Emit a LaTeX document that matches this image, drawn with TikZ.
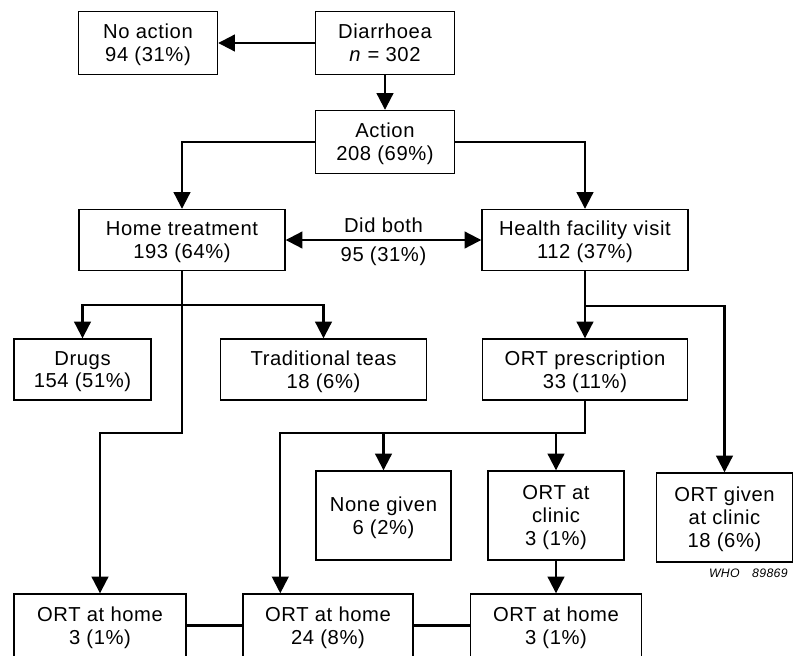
\documentclass[tikz,border=0pt]{standalone}
\usepackage{fontspec}
\setmainfont[LetterSpace=3]{Liberation Sans}
\usepackage{tikz}
\usetikzlibrary{arrows.meta}
\usetikzlibrary{calc}

\begin{document}
\begin{tikzpicture}
[>={Triangle[length=9.5pt,width=9.5pt]},
box/.style={rectangle,draw=black,line width=0.8pt,align=center,inner sep=2pt,text depth=0pt,font=\fontsize{11.5}{13}\selectfont},
pairbox/.style={box,minimum width=2.78cm,minimum height=1.26cm},
widebox/.style={box,minimum width=4.12cm,minimum height=1.22cm},
tallbox/.style={box,minimum width=2.72cm,minimum height=1.78cm},
homebox/.style={box,minimum width=3.42cm,minimum height=1.26cm},
conn/.style={line width=1.2pt}]

\useasboundingbox (0,0) rectangle (15.9,-13.1);
\clip (0,0) rectangle (15.9,-13.1);

\node at (2.96,-0.86)   [pairbox] (noact)  {No action\\94 (31\%)};
\node at (7.70,-0.86)   [pairbox] (diarr)  {Diarrhoea\\\textit{n} = 302};
\node at (7.70,-2.84)   [pairbox] (action) {Action\\208 (69\%)};
\node at (3.64,-4.80)   [widebox] (hometr) {Home treatment\\193 (64\%)};
\node at (11.70,-4.80)  [widebox] (health) {Health facility visit\\112 (37\%)};
\node at (1.65,-7.39)   [box,minimum width=2.74cm,minimum height=1.22cm] (drugs) {Drugs\\154 (51\%)};
\node at (6.47,-7.39)   [widebox] (teas)   {Traditional teas\\18 (6\%)};
\node at (11.70,-7.39)  [widebox,minimum width=4.10cm] (presc) {ORT prescription\\33 (11\%)};
\node at (7.67,-10.31)  [tallbox,minimum width=2.70cm] (nonegiven) {None given\\6 (2\%)};
\node at (11.12,-10.31) [tallbox] (clinic) {ORT at\\clinic\\3 (1\%)};
\node at (14.49,-10.35) [tallbox] (given)  {ORT given\\at clinic\\18 (6\%)};
\node at (2.00,-12.51)  [homebox,minimum width=3.44cm] (home1) {ORT at home\\3 (1\%)};
\node at (6.56,-12.51)  [homebox,minimum width=3.40cm] (home2) {ORT at home\\24 (8\%)};
\node at (11.12,-12.51) [homebox] (home3) {ORT at home\\3 (1\%)};
\node at (15.88,-11.46) [anchor=east,font=\fontsize{7}{8}\selectfont\itshape] (whonum) {WHO\quad 89869};

\coordinate (hsplit)  at (hometr.south |- 0,-6.10);
\coordinate (hfsplit) at (health.south |- 0,-6.12);
\coordinate (hlow)    at (hometr.south |- 0,-8.66);
\coordinate (plow)    at (presc.south |- 0,-8.66);
\coordinate (h2in)    at ($(home2.north west)+(0.76,0)$);

\draw [->,conn] (diarr.west) -- (noact.east);
\draw [->,conn] (diarr.south) -- (action.north);
\draw [->,conn] (action.west) -| (hometr.north);
\draw [->,conn] (action.east) -| (health.north);
\draw [<->,conn] (hometr.east) -- (health.west)
  node [midway,above,font=\fontsize{11.5}{13}\selectfont] (didboth) {Did both}
  node [midway,below,font=\fontsize{11.5}{13}\selectfont] (didnum) {95 (31\%)};
\draw [->,conn] (hsplit) -| (drugs.north);
\draw [->,conn] (hsplit) -| (teas.north);
\draw [->,conn] (hometr.south) -- (hlow) -| (home1.north);
\draw [->,conn] (health.south) -- (presc.north);
\draw [->,conn] (hfsplit) -| (given.north);
\draw [->,conn] (presc.south) -- (plow) -| (h2in);
\draw [->,conn] (nonegiven.north |- plow) -- (nonegiven.north);
\draw [->,conn] (clinic.north |- plow) -- (clinic.north);
\draw [->,conn] (clinic.south) -- (home3.north);
\draw [-,conn] (home1.east) -- (home2.west);
\draw [-,conn] (home2.east) -- (home3.west);
\end{tikzpicture}
\end{document}
